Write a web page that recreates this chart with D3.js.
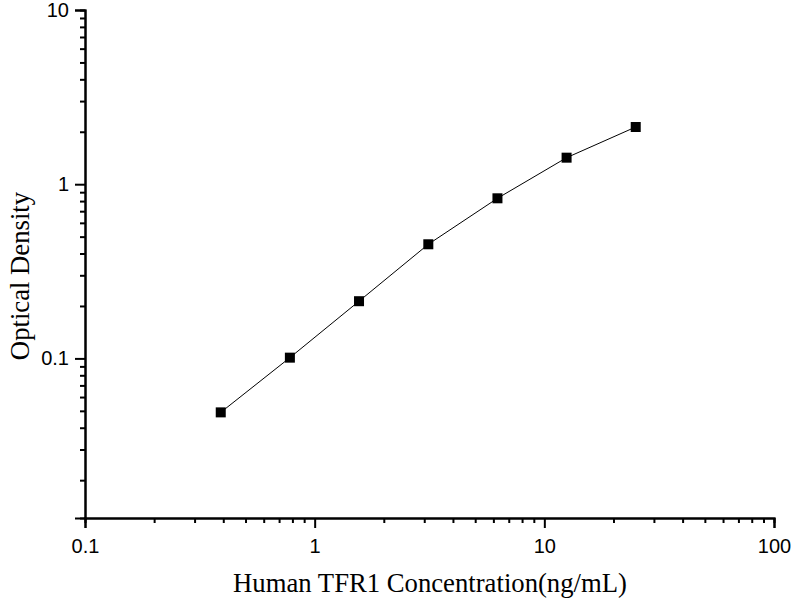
<!DOCTYPE html>
<html>
<head>
<meta charset="utf-8">
<script src="https://cdn.jsdelivr.net/npm/d3@7"></script>
<style>
  body { margin: 0; background: #fff; }
</style>
</head>
<body>
<div id="canvas"></div>
<script>
"use strict"

/* Data */
let concentration = [0.39, 0.78, 1.56, 3.125, 6.25, 12.5, 25];
let opticalDensity = [0.049, 0.101, 0.213, 0.452, 0.83, 1.42, 2.13];
let xTickLabels = [0.1, 1, 10, 100];
let yTickLabels = [0.1, 1, 10];

/* Drawing configuration */
let svgWidth = 800;
let svgHeight = 600;
let plotLeft = 85, plotRight = 774, plotTop = 10, plotBottom = 518;

let svg = d3.select("#canvas")
    .append("svg")
    .attr("width", svgWidth)
    .attr("height", svgHeight);

let xScale = d3.scaleLog()
    .domain([0.1, 100])
    .range([plotLeft, plotRight]);

let yScale = d3.scaleLog()
    .domain([0.01213, 10])
    .range([plotBottom, plotTop]);

// minor ticks: 2..9 per decade
function minorTicks(lo, hi) {
    let out = [];
    for (let e = Math.floor(Math.log10(lo)); e < Math.ceil(Math.log10(hi)); e++) {
        for (let m = 2; m <= 9; m++) {
            let v = m * Math.pow(10, e);
            if (v >= lo && v <= hi) out.push(v);
        }
    }
    return out;
}

/* x axis */
let xAxis = svg.append("g")
    .attr("transform", "translate(0," + plotBottom + ")");
xAxis.append("g").call(d3.axisBottom(xScale)
    .tickValues(minorTicks(0.1, 100))
    .tickSize(5)
    .tickFormat(""));
xAxis.append("g").call(d3.axisBottom(xScale)
    .tickValues(xTickLabels)
    .tickSize(10)
    .tickPadding(11)
    .tickFormat(d3.format("~g")));

/* y axis */
let yAxis = svg.append("g")
    .attr("transform", "translate(" + plotLeft + ",0)");
yAxis.append("g").call(d3.axisLeft(yScale)
    .tickValues(minorTicks(0.01213, 10))
    .tickSize(5)
    .tickFormat(""));
yAxis.append("g").call(d3.axisLeft(yScale)
    .tickValues(yTickLabels)
    .tickSize(10)
    .tickPadding(6)
    .tickFormat(d3.format("~g")));

svg.selectAll(".domain")
    .attr("stroke", "#000")
    .attr("stroke-width", 2);
svg.selectAll(".tick line")
    .attr("stroke", "#000")
    .attr("stroke-width", 2);
svg.selectAll(".tick text")
    .attr("fill", "#000")
    .style("font-family", "'Liberation Sans', Arial, sans-serif")
    .style("font-size", "20px");

/* curve */
let points = concentration.map((c, i) => ({x: c, y: opticalDensity[i]}));

svg.append("path")
    .datum(points)
    .attr("fill", "none")
    .attr("stroke", "#000")
    .attr("stroke-width", 1)
    .attr("d", d3.line()
        .x(d => xScale(d.x))
        .y(d => yScale(d.y)));

svg.selectAll("rect.pt")
    .data(points)
    .join("rect")
    .attr("class", "pt")
    .attr("x", d => xScale(d.x) - 5)
    .attr("y", d => yScale(d.y) - 5)
    .attr("width", 10)
    .attr("height", 10)
    .attr("fill", "#000");

/* axis titles */
svg.append("text")
    .attr("x", 430)
    .attr("y", 592)
    .attr("text-anchor", "middle")
    .style("font-family", "'Liberation Serif', 'Times New Roman', serif")
    .style("font-size", "26.7px")
    .text("Human TFR1 Concentration(ng/mL)");

svg.append("text")
    .attr("transform", "rotate(-90)")
    .attr("x", -276)
    .attr("y", 29)
    .attr("text-anchor", "middle")
    .style("font-family", "'Liberation Serif', 'Times New Roman', serif")
    .style("font-size", "26.7px")
    .text("Optical Density");
</script>
</body>
</html>
